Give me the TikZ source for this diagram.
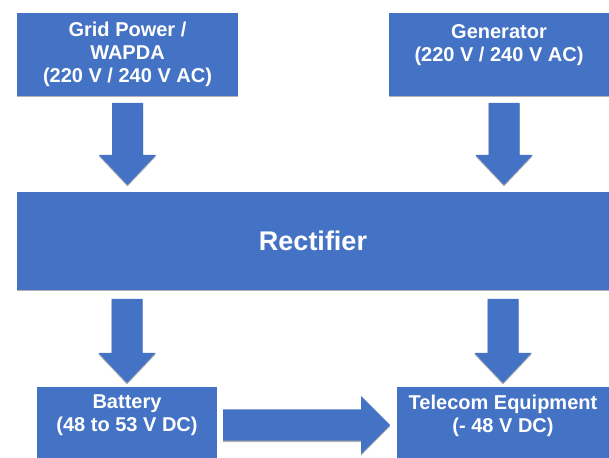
\documentclass[tikz,border=0pt]{standalone}
\usepackage{fontspec}
\setmainfont{Liberation Sans}
\usetikzlibrary{calc,shadows}
\definecolor{boxblue}{RGB}{68,114,196}
\tikzset{
  softshadow/.style={drop shadow={shadow xshift=0pt,shadow yshift=-1.5pt,opacity=0.3,fill=black}},
  bluebox/.style={rectangle,fill=boxblue,inner sep=0pt,outer sep=0pt,text=white,
    font=\fontsize{20}{23}\selectfont\bfseries,align=center,softshadow},
  downarrow/.style={fill=boxblue,softshadow,to path={
    let \p1=(\tikztostart), \p2=(\tikztotarget) in
    (\x1-15.5pt,\y1) -- (\x1+15.5pt,\y1) -- (\x1+15.5pt,\y2+30pt) -- (\x1+28.5pt,\y2+30pt)
    -- (\x1,\y2) -- (\x1-28.5pt,\y2+30pt) -- (\x1-15.5pt,\y2+30pt) -- cycle}},
  rightarrow/.style={fill=boxblue,softshadow,to path={
    let \p1=(\tikztostart), \p2=(\tikztotarget) in
    (\x1,\y1-15.5pt) -- (\x2-29pt,\y1-15.5pt) -- (\x2-29pt,\y1-29pt) -- (\x2,\y1)
    -- (\x2-29pt,\y1+29pt) -- (\x2-29pt,\y1+15.5pt) -- (\x1,\y1+15.5pt) -- cycle}}
}
\begin{document}
\begin{tikzpicture}[x=1pt,y=1pt]
\useasboundingbox (0,0) rectangle (609,457);
\clip (0,0) rectangle (609,457);
\node[bluebox,minimum width=221pt,minimum height=83pt] (grid) at (127.5,402.5)
  {Grid Power /\\WAPDA\\(220 V / 240 V AC)};
\node[bluebox,minimum width=220pt,minimum height=83pt] (gen) at (499,402.5)
  {Generator\\(220 V / 240 V AC)\\\mbox{}};
\node[bluebox,minimum width=592pt,minimum height=98pt,font=\fontsize{27}{32}\selectfont\bfseries] (rect) at (313,216)
  {Rectifier};
\node[bluebox,minimum width=180pt,minimum height=76pt] (bat) at (127,32)
  {Battery\\(48 to 53 V DC)\\\mbox{}};
\node[bluebox,minimum width=212pt,minimum height=76pt] (tel) at (503,32)
  {Telecom Equipment\\(- 48 V DC)\\\mbox{}};
\path[downarrow] ([yshift=-7pt]grid.south) to ([yshift=7pt]grid.south |- rect.north);
\path[downarrow] ([xshift=5pt,yshift=-7pt]gen.south) to ([xshift=5pt,yshift=7pt]gen.south |- rect.north);
\path[downarrow] ([yshift=-9pt]rect.south -| bat.north) to ([yshift=4pt]bat.north);
\path[downarrow] ([yshift=-9pt]rect.south -| tel.north) to ([yshift=4pt]tel.north);
\path[rightarrow] ([xshift=6pt]bat.east) to ([xshift=-7pt]bat.east -| tel.west);
\end{tikzpicture}
\end{document}
